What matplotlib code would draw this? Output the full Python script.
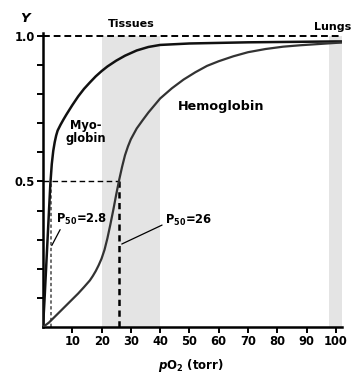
import matplotlib
matplotlib.use("Agg")
import matplotlib.pyplot as plt

plt.rcParams['font.family'] = ['DejaVu Sans']
plt.rcParams['font.weight'] = 'bold'
plt.rcParams['mathtext.fontset'] = 'custom'
plt.rcParams['mathtext.rm'] = 'DejaVu Sans:bold'
plt.rcParams['mathtext.it'] = 'DejaVu Sans:italic:bold'
plt.rcParams['mathtext.bf'] = 'DejaVu Sans:bold'

# ---- data ----
myo_p = [0, 0.5, 1, 1.5, 2, 2.5, 3, 3.5, 4, 4.5, 5, 6, 7, 8, 9, 10, 12, 14, 16, 18, 20,
         22, 25, 28, 32, 36, 40, 50, 60, 70, 80, 90, 100, 102]
myo_y = [0, 0.09, 0.19, 0.29, 0.39, 0.49, 0.56, 0.605, 0.635, 0.658, 0.675, 0.695, 0.713,
         0.73, 0.746, 0.762, 0.792, 0.818, 0.840, 0.861, 0.879, 0.895, 0.915, 0.932, 0.950,
         0.962, 0.969, 0.974, 0.976, 0.978, 0.979, 0.980, 0.981, 0.981]

hb_p = [0, 2, 4, 6, 8, 10, 12, 14, 16, 17, 18, 19, 20, 21, 22, 23, 24, 25, 26, 27, 28,
        29, 30, 32, 34, 36, 40, 44, 48, 52, 56, 60, 65, 70, 76, 82, 88, 94, 100, 102]
hb_y = [0, 0.015, 0.035, 0.055, 0.075, 0.095, 0.115, 0.137, 0.16, 0.175, 0.192, 0.212,
        0.235, 0.265, 0.305, 0.352, 0.402, 0.455, 0.505, 0.55, 0.59, 0.62, 0.645, 0.682,
        0.71, 0.737, 0.785, 0.82, 0.85, 0.875, 0.897, 0.913, 0.93, 0.944, 0.955, 0.963,
        0.968, 0.972, 0.976, 0.977]

p50_myo = 2.8
p50_hb = 26
tissues = (20, 40)
lungs = (97.5, 102)
x_ticks = [10, 20, 30, 40, 50, 60, 70, 80, 90, 100]
y_ticks = [0.1, 0.2, 0.3, 0.4, 0.5, 0.6, 0.7, 0.8, 0.9, 1.0]
y_labels = ['', '', '', '', '0.5', '', '', '', '', '1.0']

fig = plt.figure(figsize=(3.53, 3.76), dpi=100)
ax = fig.add_axes([43/353, 1-327/376, (341.7-43)/353, (327-33)/376])
ax.set_xlim(0, 102)
ax.set_ylim(0, 1.01)

shade = '#e4e4e4'
ax.axvspan(*tissues, ymin=0, ymax=1.0/1.01, color=shade, lw=0, zorder=0)
ax.axvspan(*lungs, ymin=0, ymax=1.0/1.01, color=shade, lw=0, zorder=0)

ax.plot([0, 102], [1.0, 1.0], color='black', lw=1.4, ls=(0, (3.5, 2.0)), zorder=2)

# P50 guides
ax.plot([0, p50_hb], [0.5, 0.5], color='black', lw=1.0, ls=(0, (4, 2.5)), zorder=2)
ax.plot([p50_hb, p50_hb], [0, 0.5], color='black', lw=1.8, ls=(0, (2.5, 1.8)), zorder=2)
ax.plot([p50_myo, p50_myo], [0, 0.5], color='#555555', lw=1.2, ls=(0, (2, 1.5)), zorder=2)

ax.plot(myo_p, myo_y, color='#111111', lw=1.8, zorder=3, solid_capstyle='round',
        solid_joinstyle='round')
ax.plot(hb_p, hb_y, color='#333333', lw=1.6, zorder=3, solid_capstyle='round',
        solid_joinstyle='round')

ax.spines['top'].set_visible(False)
ax.spines['right'].set_visible(False)
ax.spines['left'].set_linewidth(1.8)
ax.spines['bottom'].set_linewidth(1.8)

ax.set_xticks(x_ticks)
ax.set_xticklabels([str(t) for t in x_ticks])
ax.set_yticks(y_ticks)
ax.set_yticklabels(y_labels)
ax.tick_params(axis='both', direction='out', length=4, width=1.4, labelsize=8.3, pad=2)
for lbl in ax.get_xticklabels() + ax.get_yticklabels():
    lbl.set_fontweight('bold')

ax.text(30, 1.025, 'Tissues', ha='center', va='bottom', fontsize=8, fontweight='bold')
fig.text(351/353, 1-27/376, 'Lungs', ha='right', va='center', fontsize=8, fontweight='bold')
ax.text(14.7, 0.67, 'Myo-\nglobin', ha='center', va='center', fontsize=8.3,
        fontweight='bold', linespacing=1.05)
ax.text(60.7, 0.757, 'Hemoglobin', ha='center', va='center', fontsize=9.2, fontweight='bold')

ax.annotate(r'P$_{50}$=2.8', xy=(3.0, 0.28), xytext=(4.6, 0.37), ha='left', va='center',
            fontsize=8.3, fontweight='bold',
            arrowprops=dict(arrowstyle='-', color='black', lw=0.9, shrinkA=0, shrinkB=0,
                            relpos=(0.1, 0.0)))
ax.annotate(r'P$_{50}$=26', xy=(26.9, 0.285), xytext=(41.6, 0.365), ha='left', va='center',
            fontsize=8.3, fontweight='bold',
            arrowprops=dict(arrowstyle='-', color='black', lw=0.9, shrinkA=0, shrinkB=0,
                            relpos=(0.0, 0.3)))

fig.text(26/353, 1-18/376, r'$\mathit{Y}$', ha='center', va='center', fontsize=9.5)
fig.text(191/353, 1-366/376, r'$\mathit{p}$O$_2$ (torr)', ha='center', va='center',
         fontsize=8.5, fontweight='bold')

fig.savefig('out.png', dpi=100)
